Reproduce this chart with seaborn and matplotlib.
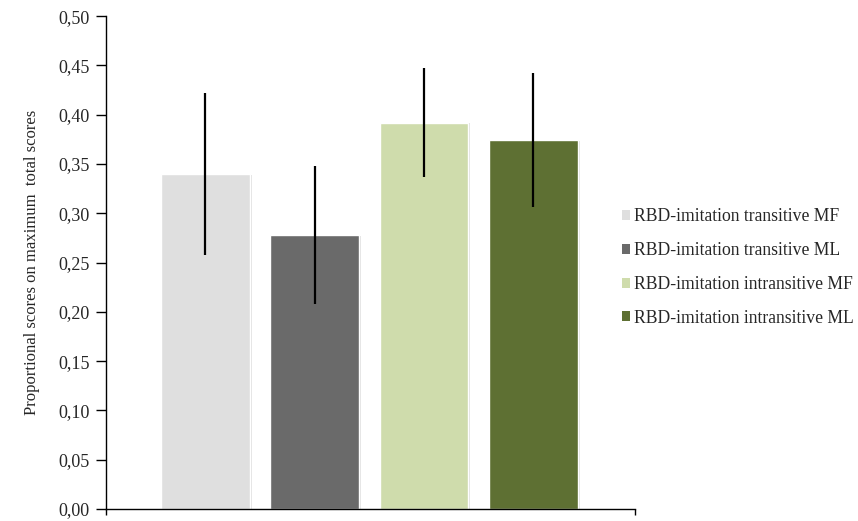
import matplotlib
matplotlib.use("Agg")
import matplotlib.pyplot as plt
import matplotlib.patheffects as pe
from matplotlib.ticker import FuncFormatter, MultipleLocator
from matplotlib.patches import Patch
import seaborn as sns
import pandas as pd

conditions = [
    "RBD-imitation transitive MF",
    "RBD-imitation transitive ML",
    "RBD-imitation intransitive MF",
    "RBD-imitation intransitive ML",
]
scores = [0.340, 0.278, 0.392, 0.374]
errors = [0.082, 0.070, 0.055, 0.068]
colors = ["#DFDFDF", "#6A6A6A", "#CFDCAC", "#5E7033"]

sns.set_style("white")
plt.rcParams["font.family"] = ["Liberation Serif", "DejaVu Serif"]

df = pd.DataFrame({"condition": conditions, "score": scores})

fig = plt.figure(figsize=(8.58, 5.21), dpi=100)
ax = fig.add_axes([0.1235, 0.023, 0.6166, 0.946])

sns.barplot(data=df, x="condition", y="score", hue="condition",
            palette=colors, order=conditions, hue_order=conditions,
            width=0.81, legend=False, errorbar=None, ax=ax, saturation=1)

# soft drop shadow on the bars
for bar in ax.patches:
    bar.set_path_effects([
        pe.SimplePatchShadow(offset=(1.5, -0.5), shadow_rgbFace="#888888", alpha=0.25),
        pe.Normal(),
    ])

ax.errorbar(range(len(scores)), scores, yerr=errors, fmt="none",
            ecolor="black", elinewidth=1.6, capsize=0, zorder=5)

xmin, xmax = -0.91, 3.93
ax.set_xlim(xmin, xmax)
ax.set_ylim(0, 0.5)
ax.yaxis.set_major_locator(MultipleLocator(0.05))
ax.yaxis.set_major_formatter(FuncFormatter(lambda v, p: f"{v:.2f}".replace(".", ",")))
ax.set_xticks([xmin, xmax])
ax.set_xticklabels([])
ax.set_xlabel("")
ax.set_ylabel("Proportional scores on maximum  total scores", fontsize=12, labelpad=13)

for side in ("top", "right"):
    ax.spines[side].set_visible(False)
for side in ("left", "bottom"):
    ax.spines[side].set_color("black")
    ax.spines[side].set_linewidth(1.0)
ax.tick_params(axis="y", which="major", direction="out", length=7, width=1,
               color="black", labelsize=13, left=True, pad=4.5)
ax.tick_params(axis="x", which="major", direction="out", length=4, width=1,
               color="black", bottom=True)

handles = [Patch(facecolor=c, edgecolor="none") for c in colors]
fig.legend(handles, conditions, loc="upper left",
           bbox_to_anchor=(0.706, 0.6305), frameon=False, fontsize=12.7,
           handlelength=0.5, handleheight=0.5, handletextpad=0.2,
           labelspacing=0.95)

fig.savefig("out.png", dpi=100)
